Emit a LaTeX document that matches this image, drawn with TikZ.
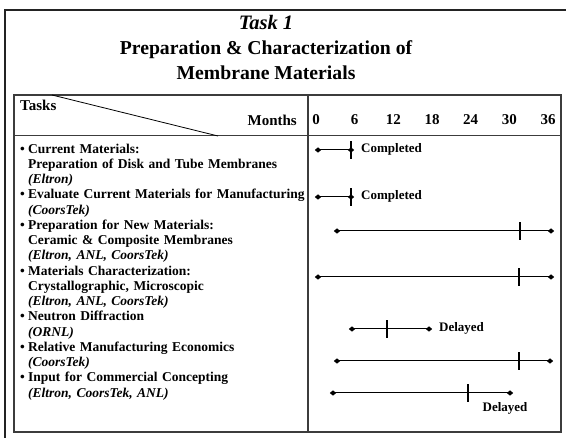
\documentclass[tikz,border=0pt]{standalone}
\usepackage{fontspec}
\setmainfont{Liberation Serif}
\usepackage{tikz}
\usetikzlibrary{shapes.geometric, calc}
\definecolor{FrameGray}{RGB}{35, 35, 35}
\definecolor{RuleGray}{RGB}{60, 60, 60}

\tikzset{
  endmark/.style={diamond, fill=black, draw=none, inner sep=0pt,
                  minimum width=6.5pt, minimum height=5.5pt},
  tickmark/.style={rectangle, fill=black, inner sep=0pt,
                   minimum width=1.8pt, minimum height=18pt},
  barline/.style={line width=1pt},
  tasktext/.style={anchor=north west, inner sep=0pt, text width=285pt, align=left,
                   font=\fontsize{13.5}{15.25}\selectfont\bfseries},
  notetext/.style={inner sep=0pt, font=\fontsize{13}{15}\selectfont\bfseries},
  headtext/.style={inner sep=0pt, font=\fontsize{15}{17}\selectfont\bfseries}
}
\newcommand{\bul}{\makebox[8pt][l]{\textbullet}}
\newcommand{\cont}{\hspace*{8pt}}

\begin{document}
\begin{tikzpicture}[x=1pt, y=-1pt]
    \useasboundingbox[fill=white] (0,0) rectangle (566,438);
    % outer frame, open to the right and below
    \draw[line width=1.6pt, FrameGray] (5,450) -- (5,10) -- (580,10);

    \node[align=center, inner sep=0pt, font=\bfseries\fontsize{19.7}{25}\selectfont]
      (title) at (266,47) {
      {\itshape\fontsize{20.5}{25}\selectfont Task 1}\\
      Preparation \& Characterization of\\
      Membrane Materials
    };

    % table
    \draw[line width=1.2pt, RuleGray] (14,95) rectangle (561,432);
    \draw[line width=1.2pt, RuleGray] (308,95) -- (308,432);
    \draw[line width=1pt, RuleGray] (14,136) -- (561,136);
    \draw[line width=0.8pt] (52,95) -- (218,136);

    \node[headtext, anchor=west] (tasks) at (20,105) {Tasks};
    \node[headtext, anchor=east] (months) at (297,120) {Months};
    \foreach \m [count=\i from 0] in {0,6,12,18,24,30,36}
      \node[headtext] (mon\i) at (316+38.67*\i,120) {\m};

    % task list
    \node[tasktext] (task1) at (20,142.3) {\strut\bul Current Materials:\\
      \cont Preparation of Disk and Tube Membranes\\ \cont\textit{(Eltron)}};
    \node[tasktext] (task2) at (20,188.05) {\strut\bul Evaluate Current Materials for Manufacturing\\
      \cont\textit{(CoorsTek)}};
    \node[tasktext] (task3) at (20,218.55) {\strut\bul Preparation for New Materials:\\
      \cont Ceramic \& Composite Membranes\\ \cont\textit{(Eltron, ANL, CoorsTek)}};
    \node[tasktext] (task4) at (20,264.3) {\strut\bul Materials Characterization:\\
      \cont Crystallographic, Microscopic\\ \cont\textit{(Eltron, ANL, CoorsTek)}};
    \node[tasktext] (task5) at (20,310.05) {\strut\bul Neutron Diffraction\\
      \cont\textit{(ORNL)}};
    \node[tasktext] (task6) at (20,340.55) {\strut\bul Relative Manufacturing Economics\\
      \cont\textit{(CoorsTek)}};
    \node[tasktext] (task7) at (20,371.05) {\strut\bul Input for Commercial Concepting\\
      \cont\textit{(Eltron, CoorsTek, ANL)}};

    % schedule bars: row / y / start / milestone / end
    \foreach \r/\y/\s/\k/\e in {1/150/318/351/351, 2/197/318/351/351, 3/231/337/520/551,
                                4/277/318/519/551, 5/329/352/387/429, 6/361/337/519/550,
                                7/393/333/468/510} {
      \node[endmark] (bar\r s) at (\s,\y) {};
      \node[endmark] (bar\r e) at (\e,\y) {};
      \draw[barline] (bar\r s.center) -- (bar\r e.center);
      \node[tickmark] (bar\r k) at (\k,\y) {};
    }

    \node[notetext, anchor=west] (done1) at (361,149) {Completed};
    \node[notetext, anchor=west] (done2) at (361,196) {Completed};
    \node[notetext, anchor=west] (late5) at (439,328) {Delayed};
    \node[notetext] (late7) at (505,408) {Delayed};
  \end{tikzpicture}
\end{document}
